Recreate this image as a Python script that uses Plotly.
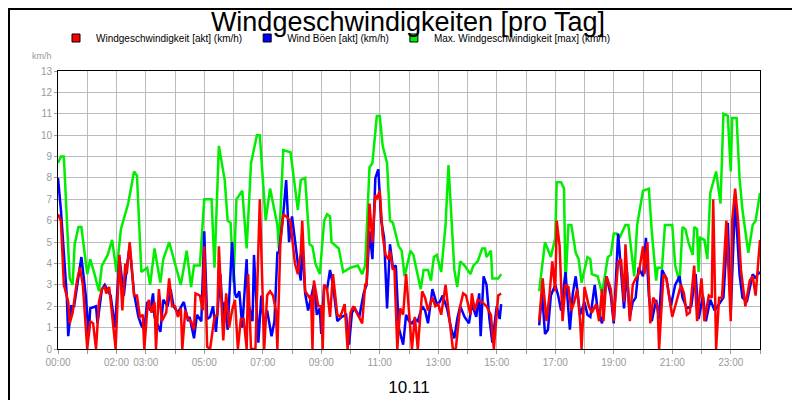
import plotly.graph_objects as go

green_t = [0,0.1,0.2,0.4,0.5,0.57,0.7,0.8,1.0,1.1,1.25,1.4,1.5,1.7,1.85,2.0,2.15,2.3,2.4,2.6,2.7,2.85,3.05,3.15,3.3,3.5,3.6,3.8,3.95,4.2,4.4,4.55,4.65,4.85,5.0,5.25,5.35,5.5,5.7,5.8,5.9,6.0,6.1,6.3,6.45,6.6,6.8,6.9,7.1,7.25,7.5,7.55,7.7,7.95,8.2,8.3,8.45,8.6,8.7,8.8,8.95,9.1,9.2,9.3,9.35,9.6,9.75,10.0,10.25,10.4,10.5,10.65,10.75,10.9,11.0,11.1,11.25,11.35,11.45,11.65,11.75,11.85,12.05,12.15,12.4,12.5,12.65,12.75,12.85,12.95,13.1,13.25,13.35,13.45,13.55,13.65,13.75,13.9,14.1,14.2,14.35,14.5,14.6,14.65,14.8,14.85,15.05,15.15,15.5,
           16.45,16.65,16.85,17.0,17.05,17.2,17.3,17.35,17.45,17.55,17.7,17.8,17.9,18.1,18.2,18.25,18.45,18.6,18.8,18.9,19.0,19.1,19.2,19.4,19.5,19.7,19.8,20.0,20.2,20.3,20.45,20.5,20.65,20.75,21.0,21.1,21.25,21.35,21.45,21.55,21.7,21.75,21.85,21.9,21.95,22.1,22.2,22.3,22.5,22.65,22.75,22.9,23.0,23.05,23.2,23.3,23.4,23.6,23.75,23.85,24.0]
green_v = [8.7,9.0,9.0,3.3,3.0,4.9,5.7,5.7,3.5,4.2,3.5,2.7,3.9,4.4,5.1,3.6,5.6,6.4,6.8,8.3,8.1,3.6,3.8,3.0,4.7,3.1,4.2,5.0,4.2,3.0,4.6,2.9,3.9,3.9,7.0,7.0,3.8,9.5,7.9,6.0,5.9,3.1,7.0,7.4,4.7,8.7,10.0,10.0,6.0,7.5,5.8,4.7,9.3,9.2,6.5,7.9,8.0,4.9,4.8,4.0,3.5,6.0,6.3,6.2,5.0,4.7,3.6,3.8,3.9,3.5,3.9,8.5,8.7,10.9,10.9,9.5,8.7,6.0,5.9,4.8,4.6,3.4,4.6,4.4,2.8,3.7,3.7,3.2,4.3,4.4,3.6,5.8,8.6,5.8,3.7,2.9,4.1,3.9,3.5,3.9,4.1,4.7,4.7,4.3,4.6,3.3,3.3,3.5,None,
           2.7,5.0,4.3,5.2,7.8,7.8,7.5,3.0,5.8,5.8,4.5,4.2,3.1,4.3,4.2,3.5,3.4,2.6,4.3,4.4,5.4,5.4,5.2,5.8,5.8,3.4,5.8,7.4,7.5,5.5,3.2,3.8,3.8,5.8,5.8,3.9,3.1,5.7,5.6,5.0,4.4,5.7,5.6,3.6,5.2,5.1,4.2,7.3,8.3,6.8,11.0,10.9,8.3,10.8,10.8,8.0,6.5,4.5,5.8,6.0,7.3]

blue_t = [0,0.1,0.3,0.35,0.45,0.55,0.8,0.95,1.05,1.1,1.3,1.35,1.5,1.6,1.8,1.95,2.1,2.25,2.35,2.45,2.6,2.75,2.85,2.95,3.05,3.15,3.25,3.3,3.5,3.6,3.75,3.85,3.95,4.1,4.3,4.45,4.5,4.65,4.75,4.9,5.0,5.1,5.2,5.3,5.4,5.55,5.65,5.7,5.8,5.95,6.05,6.1,6.2,6.3,6.45,6.5,6.55,6.65,6.7,6.85,6.95,7.05,7.15,7.3,7.4,7.5,7.55,7.7,7.8,7.9,8.0,8.1,8.2,8.3,8.35,8.45,8.55,8.65,8.75,8.85,8.95,9.0,9.1,9.2,9.3,9.4,9.55,9.7,9.85,9.95,10.05,10.15,10.3,10.45,10.55,10.65,10.75,10.85,10.95,11.05,11.15,11.25,11.35,11.45,11.55,11.65,11.8,11.9,12.0,12.1,12.2,12.3,12.45,12.55,12.65,12.8,12.95,13.05,13.15,13.3,13.45,13.55,13.65,13.75,13.9,14.05,14.15,14.3,14.4,14.45,14.55,14.65,14.75,14.85,15.0,15.1,15.15,15.5,
          16.45,16.55,16.65,16.75,16.85,17.0,17.1,17.2,17.35,17.5,17.6,17.7,17.85,18.0,18.1,18.2,18.35,18.45,18.6,18.75,18.9,19.0,19.15,19.25,19.35,19.45,19.55,19.65,19.75,19.85,20.0,20.1,20.2,20.3,20.45,20.55,20.65,20.8,20.95,21.1,21.25,21.35,21.5,21.65,21.8,21.9,22.05,22.15,22.3,22.45,22.6,22.75,22.9,23.0,23.15,23.3,23.4,23.55,23.75,23.85,23.95,24.0]
blue_v = [8.0,6.5,2.5,0.6,2.0,2.0,4.3,2.5,0.6,1.9,2.0,1.2,2.8,3.0,2.5,1.0,4.3,2.5,3.8,4.8,2.6,1.5,1.1,0.9,2.2,1.8,2.6,1.5,0.8,2.3,2.0,2.8,2.0,1.7,2.2,1.3,1.5,0.5,1.6,1.3,5.5,1.4,1.5,2.0,0.8,3.5,1.2,2.2,0.9,5.0,2.6,2.4,2.7,1.0,4.2,2.0,1.9,1.3,4.4,0.3,2.5,1.0,1.8,0.6,1.3,4.5,4.5,6.3,7.9,5.0,6.2,5.0,4.0,3.2,5.0,2.6,1.8,2.4,3.0,1.6,1.9,0.7,3.0,2.8,3.7,3.0,1.3,1.5,1.6,0.2,1.7,1.9,1.5,2.6,3.0,5.5,4.2,8.0,8.4,6.0,5.2,1.9,4.9,3.8,3.9,1.0,0.2,1.6,1.3,1.2,1.4,1.3,2.0,1.8,1.2,2.8,2.1,2.2,2.5,1.9,0.9,0.5,1.4,2.0,1.5,1.2,2.1,1.5,2.6,0.6,3.4,3.0,1.4,0.3,2.0,1.4,2.1,None,
          1.1,2.6,0.7,0.9,2.5,3.0,2.5,1.8,3.6,0.9,2.6,3.4,1.6,2.2,1.6,1.5,3.0,1.8,1.2,3.4,2.5,1.2,5.4,3.4,1.9,3.6,1.5,2.2,2.4,3.8,3.4,5.2,2.5,1.3,2.3,1.4,3.7,3.3,2.0,3.0,3.4,2.4,1.9,2.0,3.5,1.4,2.5,1.3,2.3,1.8,2.1,2.4,5.9,1.7,7.0,3.5,2.4,2.2,3.5,3.3,3.6,3.5]

red_t = [0,0.1,0.2,0.35,0.4,0.5,0.65,0.75,0.85,1.0,1.1,1.2,1.3,1.4,1.5,1.6,1.65,1.75,1.85,1.97,2.1,2.2,2.3,2.35,2.45,2.6,2.7,2.8,2.9,2.95,3.05,3.1,3.2,3.3,3.35,3.45,3.55,3.7,3.8,3.9,4.0,4.1,4.2,4.25,4.35,4.45,4.55,4.65,4.7,4.85,4.95,5.0,5.1,5.2,5.35,5.45,5.5,5.65,5.75,5.85,5.95,6.05,6.15,6.25,6.35,6.45,6.5,6.6,6.75,6.9,7.05,7.15,7.25,7.35,7.45,7.5,7.6,7.7,7.8,7.94,8.1,8.2,8.3,8.35,8.45,8.6,8.65,8.7,8.75,8.9,9.0,9.05,9.1,9.2,9.3,9.4,9.55,9.65,9.8,9.9,10.0,10.1,10.25,10.4,10.5,10.55,10.65,10.75,10.85,10.9,11.0,11.1,11.2,11.3,11.35,11.45,11.5,11.6,11.7,11.8,11.9,12.1,12.2,12.3,12.45,12.55,12.65,12.8,12.9,13.0,13.1,13.25,13.35,13.45,13.5,13.6,13.75,13.85,13.95,14.1,14.15,14.25,14.35,14.5,14.65,14.8,14.9,15.05,15.15,15.5,
         16.45,16.57,16.7,16.8,16.9,17.0,17.05,17.15,17.25,17.35,17.45,17.55,17.65,17.75,17.85,17.9,18.0,18.15,18.25,18.4,18.5,18.6,18.65,18.75,18.9,19.0,19.15,19.25,19.35,19.4,19.55,19.65,19.75,19.85,20.0,20.05,20.15,20.25,20.35,20.5,20.55,20.7,20.8,20.9,21.0,21.1,21.3,21.4,21.5,21.6,21.75,21.85,22.0,22.1,22.25,22.35,22.4,22.5,22.6,22.7,22.85,23.0,23.05,23.15,23.25,23.35,23.5,23.65,23.75,23.85,24.0]
red_v = [6.3,6.0,3.0,2.2,1.2,1.7,3.2,3.8,3.0,0,1.3,1.2,0,2.2,2.8,2.9,2.6,2.9,1.6,0,4.4,1.8,4.0,3.5,5.0,2.5,2.5,1.5,1.6,0,1.8,2.3,1.7,2.2,0,2.8,1.3,1.7,3.3,2.0,2.0,1.5,1.9,0,1.8,1.4,1.3,0.9,2.6,2.5,1.8,4.8,0.1,0,1.5,1.6,4.8,0.4,2.6,1.0,1.8,2.3,0,1.4,1.4,0,3.5,0,0,7.0,0,2.5,2.7,2.5,1.8,0,4.9,6.3,6.2,6.0,4.0,3.5,4.5,6.0,2.7,2.4,2.5,0,3.2,2.0,2.0,0,3.0,2.8,1.5,3.5,1.6,1.5,2.1,0,1.7,2.0,1.6,1.2,3.0,3.0,6.8,5.0,7.2,7.0,7.4,5.3,4.4,4.2,4.6,3.7,3.8,0,1.9,1.6,3.5,0,1.5,0,2.7,2.4,1.8,2.4,2.0,2.1,1.6,3.0,1.8,0.7,0,0,2.0,2.6,2.5,1.6,2.6,1.8,2.3,2.2,2.0,1.6,0,2.5,2.6,None,
         1.3,3.3,1.3,2.5,4.1,2.7,6.0,4.8,1.3,3.0,2.9,1.8,2.2,2.8,1.3,0,2.9,2.0,1.7,2.1,1.3,2.8,1.3,3.4,2.8,1.3,4.1,4.2,2.2,4.9,1.3,3.0,3.3,3.5,4.8,3.5,5.0,1.2,2.4,2.0,0,3.5,3.3,2.5,1.5,2.0,3.0,2.6,1.6,1.7,3.9,1.3,3.3,1.3,2.5,2.4,7.0,0,2.4,2.4,6.0,1.3,6.0,7.5,6.0,3.7,2.0,3.2,3.4,2.5,5.1]

tick_vals = list(range(25))
tick_labels = {0:"00:00",2:"02:00",3:"03:00",5:"05:00",7:"07:00",9:"09:00",11:"11:00",13:"13:00",15:"15:00",17:"17:00",19:"19:00",21:"21:00",23:"23:00"}
tick_text = [tick_labels.get(h, "") for h in tick_vals]

series = [("Windgeschwindigkeit [akt] (km/h)", red_t, red_v, "#ff0000"),
          ("Wind Böen [akt] (km/h)", blue_t, blue_v, "#0000ff"),
          ("Max. Windgeschwindigkeit [max] (km/h)", green_t, green_v, "#00ee00")]

fig = go.Figure()
for name, t, v, c in [series[2], series[1], series[0]]:
    fig.add_trace(go.Scatter(x=t, y=v, mode="lines", line=dict(color=c, width=2.5),
                             showlegend=False, connectgaps=False))
for name, t, v, c in series:
    fig.add_trace(go.Scatter(x=[None], y=[None], mode="markers", name=name,
                             marker=dict(symbol="square", size=8, color=c, line=dict(color="black", width=1))))

fig.update_layout(
    width=800, height=400, paper_bgcolor="white", plot_bgcolor="white",
    margin=dict(l=50, r=48, t=63, b=59, autoexpand=False),
    title=dict(text="Windgeschwindigkeiten [pro Tag]", x=0.5, y=0.99, yanchor="top",
               font=dict(family="Liberation Sans, Arial", size=27, color="black")),
    font=dict(family="Liberation Sans, Arial", size=10, color="#999999"),
    legend=dict(orientation="h", xref="container", yref="container", x=0.06, y=0.925,
                xanchor="left", yanchor="middle",
                font=dict(size=10, color="black"), itemwidth=30, tracegroupgap=0,
                bgcolor="rgba(0,0,0,0)"),
    xaxis=dict(range=[0, 24], tickvals=tick_vals, ticktext=tick_text, showgrid=True, automargin=False,
               gridcolor="#bbbbbb", gridwidth=1, zeroline=False, showline=True,
               linecolor="black", mirror=True, ticks="outside", ticklen=4, tickcolor="#999999",
               tickfont=dict(color="#999999", size=10),
               title=dict(text="10.11", font=dict(size=17, color="black"), standoff=14)),
    yaxis=dict(range=[0, 13], dtick=1, showgrid=True, gridcolor="#bbbbbb", zeroline=False, automargin=False,
               showline=True, linecolor="black", mirror=True, ticks="outside", ticklen=3,
               tickcolor="#999999", tickfont=dict(color="#999999", size=10)),
    annotations=[dict(text="km/h", xref="paper", yref="paper", x=-0.005, y=1.03,
                      xanchor="right", yanchor="bottom", showarrow=False,
                      font=dict(size=9, color="#999999"))],
    shapes=[dict(type="rect", xref="paper", yref="paper", x0=-49/702, x1=1+47/702,
                 y0=-58/278, y1=1+62/278, line=dict(color="black", width=2))],
)
fig.write_html("out.html")
